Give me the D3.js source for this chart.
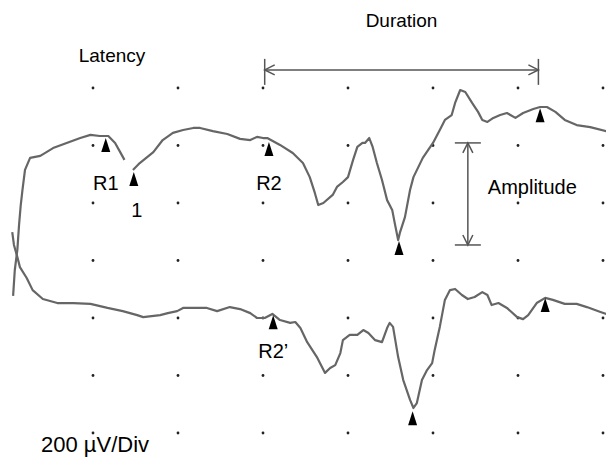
<!DOCTYPE html>
<html>
<head>
<meta charset="utf-8">
<script src="https://cdn.jsdelivr.net/npm/d3@7"></script>
<style>
  body { margin: 0; background: #fff; }
  svg { display: block; }
  text { font-family: "Liberation Sans", Arial, sans-serif; fill: #000; }
</style>
</head>
<body>
<svg id="canvas" width="606" height="457"></svg>
<script>
// blink reflex trace, time in ms (10 ms / div), amplitude in µV (200 µV / div)

// upper trace (null = gap in the sweep)
let topTime = [0.6, 0.8, 1.1, 1.3, 1.5, 1.7, 2.0, 2.6, 3.8, 5.3, 6.9, 8.5, 9.7, 10.8, 11.8, 12.6, 13.2, 13.7,
  null,
  14.7, 15.5, 17.1, 18.2, 19.4, 20.6, 21.8, 22.6, 24.1, 25.8, 27.3, 28.5, 29.3, 30.0, 30.5, 32.0, 33.5, 34.7,
  35.5, 36.1, 36.5, 37.1, 38.2, 38.7, 39.4, 40.0, 40.6, 41.1, 41.7, 42.0, 42.5, 42.9, 43.4, 44.0, 44.6, 45.2,
  45.5, 45.9, 46.1, 46.7, 47.3, 47.7, 48.8, 50.0, 50.8, 51.4, 52.2, 52.6, 53.2, 53.8, 54.6, 55.3, 55.8, 56.4,
  57.1, 57.9, 58.7, 59.7, 60.6, 61.8, 62.6, 63.4, 64.4, 65.5, 66.9, 68.5, 70.4]
let topVolt = [-123, -33, 37, 124, 193, 245, 315, 357, 364, 391, 409, 426, 437, 433, 433, 409, 377, 350,
  null,
  315, 339, 377, 419, 444, 454, 461, 461, 450, 440, 423, 419, 430, 426, 426, 402, 374, 339,
  290, 235, 193, 200, 228, 256, 273, 290, 350, 395, 409, 409, 426, 395, 339, 280, 210, 176,
  130, 71, 96, 151, 245, 290, 357, 409, 454, 489, 506, 548, 593, 586, 548, 517, 489, 482,
  496, 506, 513, 496, 513, 527, 534, 534, 517, 489, 471, 464, 450]

// lower trace
let botTime = [0.5, 0.7, 1.1, 1.4, 2.2, 2.9, 4.1, 5.8, 7.7, 9.7, 11.7, 13.5, 15.2, 15.9, 17.9, 18.8, 19.9,
  20.6, 22.2, 23.4, 24.6, 26.1, 27.3, 28.5, 29.3, 30.2, 31.1, 32.0, 33.2, 33.8, 34.4, 35.2, 36.4, 37.3,
  37.9, 38.5, 39.1, 39.4, 40.2, 41.1, 41.8, 42.4, 43.2, 44.0, 44.6, 44.9, 45.3, 45.9, 46.5, 47.3, 47.7,
  48.1, 48.7, 49.3, 49.9, 50.2, 50.8, 51.4, 52.0, 52.6, 53.4, 54.1, 54.9, 55.8, 56.4, 56.9, 57.7, 58.7,
  59.9, 60.6, 61.2, 62.2, 63.2, 64.1, 65.5, 66.9, 68.1, 69.7, 70.4]
let botVolt = [99, 54, 12, -23, -61, -103, -134, -148, -148, -151, -165, -176, -190, -197, -190, -183, -176,
  -165, -165, -165, -176, -162, -169, -183, -200, -200, -186, -207, -217, -214, -235, -284, -339, -391,
  -374, -364, -322, -277, -259, -259, -242, -252, -277, -284, -235, -217, -231, -336, -416, -485, -513,
  -496, -416, -381, -357, -311, -231, -137, -103, -99, -120, -134, -127, -110, -120, -155, -148, -165,
  -197, -204, -190, -148, -130, -137, -151, -151, -162, -179, -186]

// cursor markers
let markerNames = ['R1', '1', 'R2', 'min', 'end', "R2\u2019", 'min2', 'end2']
let markerTime = [11.5, 14.8, 30.7, 46.0, 62.6, 31.2, 47.6, 63.2]
let markerVolt = [426, 308, 412, 68, 530, -190, -524, -130]

// measurement cursors
let durationFrom = 30.2, durationTo = 62.4, durationLevel = 663
let amplitudeTime = 54.1, amplitudeHigh = 409, amplitudeLow = 54

// grid dots
let gridTimes = [10, 20, 30, 40, 50, 60, 70]
let gridVolts = [600, 400, 200, 0, -200, -400, -600]

let canvas = d3.select('#canvas')

let xScale = d3.scaleLinear().domain([0, 70]).range([8, 603])
let yScale = d3.scaleLinear().domain([-600, 600]).range([433, 88])

// dotted division grid
let dots = []
gridVolts.forEach((v) => {
  gridTimes.forEach((t) => { dots.push({ t: t, v: v }) })
})
canvas.append('g').selectAll('circle')
  .data(dots)
  .enter()
  .append('circle')
  .attr('cx', (d) => xScale(d.t))
  .attr('cy', (d) => yScale(d.v))
  .attr('r', 1.4)
  .attr('fill', '#222')

let line = d3.line()
  .defined((d) => d[0] != null)
  .x((d) => xScale(d[0]))
  .y((d) => yScale(d[1]))

let traces = [d3.zip(topTime, topVolt), d3.zip(botTime, botVolt)]
canvas.append('g').selectAll('path')
  .data(traces)
  .enter()
  .append('path')
  .attr('d', line)
  .attr('fill', 'none')
  .attr('stroke', '#666')
  .attr('stroke-width', 2.2)
  .attr('stroke-linejoin', 'round')

// triangles under the cursor points
canvas.append('g').selectAll('path')
  .data(d3.zip(markerTime, markerVolt))
  .enter()
  .append('path')
  .attr('d', (d) => {
    let x = xScale(d[0]), y = yScale(d[1])
    return 'M' + x + ',' + y + 'L' + (x - 4.5) + ',' + (y + 14) + 'L' + (x + 4.5) + ',' + (y + 14) + 'Z'
  })
  .attr('fill', '#000')

// marker labels
let labels = [
  { text: 'R1', i: 0, dx: 0, dy: 52 },
  { text: '1', i: 1, dx: 3, dy: 45 },
  { text: 'R2', i: 2, dx: 0, dy: 48 },
  { text: "R2\u2019", i: 5, dx: 0, dy: 43 }
]
canvas.append('g').selectAll('text')
  .data(labels)
  .enter()
  .append('text')
  .attr('x', (d) => xScale(markerTime[d.i]) + d.dx)
  .attr('y', (d) => yScale(markerVolt[d.i]) + d.dy)
  .attr('text-anchor', 'middle')
  .attr('font-size', 20)
  .text((d) => d.text)

// duration and amplitude cursors
let cursor = canvas.append('g')
  .attr('stroke', '#555')
  .attr('stroke-width', 1.5)
  .attr('fill', 'none')

let dx0 = xScale(durationFrom), dx1 = xScale(durationTo), dy = yScale(durationLevel)
cursor.append('line').attr('x1', dx0).attr('x2', dx1).attr('y1', dy).attr('y2', dy)
cursor.append('line').attr('x1', dx0).attr('x2', dx0).attr('y1', dy - 11).attr('y2', dy + 15)
cursor.append('line').attr('x1', dx1).attr('x2', dx1).attr('y1', dy - 11).attr('y2', dy + 15)
cursor.append('path').attr('d', 'M' + (dx0 + 10) + ',' + (dy - 5) + 'L' + dx0 + ',' + dy + 'L' + (dx0 + 10) + ',' + (dy + 5))
cursor.append('path').attr('d', 'M' + (dx1 - 10) + ',' + (dy - 5) + 'L' + dx1 + ',' + dy + 'L' + (dx1 - 10) + ',' + (dy + 5))

let ax = xScale(amplitudeTime), ay0 = yScale(amplitudeHigh), ay1 = yScale(amplitudeLow)
cursor.append('line').attr('x1', ax).attr('x2', ax).attr('y1', ay0).attr('y2', ay1)
cursor.append('line').attr('x1', ax - 13).attr('x2', ax + 13).attr('y1', ay0).attr('y2', ay0)
cursor.append('line').attr('x1', ax - 13).attr('x2', ax + 13).attr('y1', ay1).attr('y2', ay1)
cursor.append('path').attr('d', 'M' + (ax - 5) + ',' + (ay0 + 10) + 'L' + ax + ',' + ay0 + 'L' + (ax + 5) + ',' + (ay0 + 10))
cursor.append('path').attr('d', 'M' + (ax - 5) + ',' + (ay1 - 10) + 'L' + ax + ',' + ay1 + 'L' + (ax + 5) + ',' + (ay1 - 10))

// titles
canvas.append('text').attr('x', (dx0 + dx1) / 2).attr('y', 27).attr('text-anchor', 'middle')
  .attr('font-size', 19).text('Duration')
canvas.append('text').attr('x', 112).attr('y', 62).attr('text-anchor', 'middle')
  .attr('font-size', 19).text('Latency')
canvas.append('text').attr('x', ax + 20).attr('y', 194)
  .attr('font-size', 20).text('Amplitude')
canvas.append('text').attr('x', 41).attr('y', 452)
  .attr('font-size', 22).text('200 \u00b5V/Div')
</script>
</body>
</html>
